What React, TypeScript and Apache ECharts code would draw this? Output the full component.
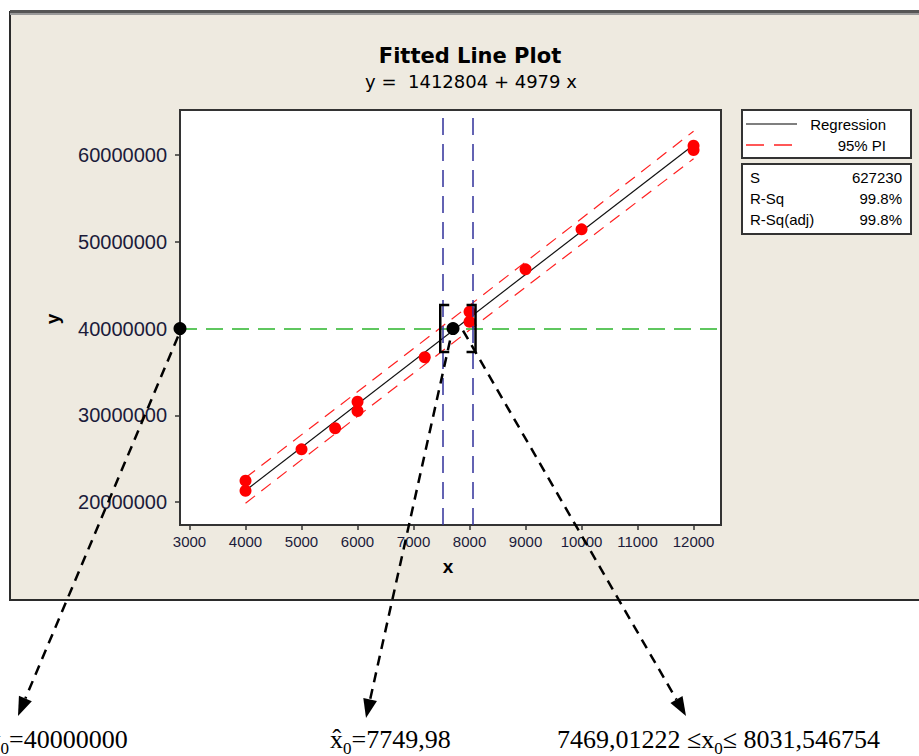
import React, { useEffect, useRef } from "react";
import * as echarts from "echarts";

// ---- data ----
const xObs = [4000, 4000, 5000, 5600, 6000, 6000, 7200, 8000, 8000, 9000, 10000, 12000, 12000];
const yObs = [22460000, 21300000, 26070000, 28500000, 31560000, 30490000, 36680000, 41940000, 40780000, 46820000, 51430000, 61070000, 60580000];

const regX = [4000, 12000];
const regY = [21328804, 61160804];

const piX = [4000, 6000, 8000, 10000, 12000];
const piUpper = [22800000, 32710000, 42670000, 52680000, 62750000];
const piLower = [19860000, 29870000, 39820000, 49720000, 59570000];

const xTicks = [3000, 4000, 5000, 6000, 7000, 8000, 9000, 10000, 11000, 12000];
const yTicks = [20000000, 30000000, 40000000, 50000000, 60000000];

const y0 = 40000000;
const xHat = 7705;
const intervalLines = [7515, 8050];
const bracketX = [7477, 8107];
const bracketTop = 42700000;
const bracketBottom = 37300000;

const xMin = 2830;
const xMax = 12490;
const yMin = 17350000;
const yMax = 65190000;

const statNames = ["S", "R-Sq", "R-Sq(adj)"];
const statValues = ["627230", "99.8%", "99.8%"];

const sansFont = '"Liberation Sans", Arial, sans-serif';
const serifFont = '"Liberation Serif", "Times New Roman", serif';

export default function App() {
  const ref = useRef<HTMLDivElement>(null);

  useEffect(() => {
    if (!ref.current) return;
    const chart = echarts.init(ref.current, undefined, { renderer: "svg" });

    const scatterData = xObs.map((x, i) => [x, yObs[i]]);
    const regData = regX.map((x, i) => [x, regY[i]]);
    const upData = piX.map((x, i) => [x, piUpper[i]]);
    const loData = piX.map((x, i) => [x, piLower[i]]);

    chart.setOption({
      animation: false,
      backgroundColor: "#ffffff",
      grid: {
        left: 180,
        top: 110,
        width: 541,
        height: 415,
        show: true,
        backgroundColor: "#ffffff",
        borderColor: "#333333",
        borderWidth: 2,
        z: 1,
      },
      xAxis: {
        type: "value",
        min: xMin,
        max: xMax,
        splitNumber: 10,
        splitLine: { show: false },
        axisLine: { show: false },
        axisTick: { show: true, length: 5, lineStyle: { color: "#333", width: 1.5 } },
        axisLabel: {
          showMinLabel: false,
          showMaxLabel: false,
          margin: 9,
          fontSize: 15,
          fontFamily: sansFont,
          color: "#1b1b3a",
          formatter: (v: number) => (xTicks.indexOf(v) >= 0 ? String(v) : ""),
        },
      },
      yAxis: {
        type: "value",
        min: yMin,
        max: yMax,
        splitNumber: 5,
        splitLine: { show: false },
        axisLine: { show: false },
        axisTick: { show: true, length: 5, lineStyle: { color: "#333", width: 1.5 } },
        axisLabel: {
          showMinLabel: false,
          showMaxLabel: false,
          margin: 13,
          fontSize: 20,
          fontFamily: sansFont,
          color: "#1b1b3a",
          formatter: (v: number) => (yTicks.indexOf(v) >= 0 ? String(v) : ""),
        },
      },
      series: [
        {
          name: "Regression",
          type: "line",
          data: regData,
          showSymbol: false,
          lineStyle: { color: "#111", width: 1.2 },
          z: 3,
          markLine: {
            silent: true,
            symbol: ["none", "none"],
            label: { show: false },
            data: [
              { yAxis: y0, lineStyle: { color: "#5fc75f", width: 2, type: [17, 9] } },
              ...intervalLines.map((v) => ({
                xAxis: v,
                lineStyle: { color: "#30309a", width: 1.5, type: [17, 9] },
              })),
            ],
          },
        },
        {
          name: "95% PI upper",
          type: "line",
          data: upData,
          showSymbol: false,
          lineStyle: { color: "#ff2020", width: 1.2, type: [12, 8] },
          z: 3,
        },
        {
          name: "95% PI lower",
          type: "line",
          data: loData,
          showSymbol: false,
          lineStyle: { color: "#ff2020", width: 1.2, type: [12, 8] },
          z: 3,
        },
        {
          name: "Observations",
          type: "scatter",
          data: scatterData,
          symbolSize: 12,
          itemStyle: { color: "#ff0000", opacity: 1 },
          z: 4,
        },
        {
          name: "Brackets",
          type: "custom",
          coordinateSystem: "cartesian2d",
          clip: false,
          encode: { x: 0, y: 1 },
          data: [
            [bracketX[0], bracketTop, bracketBottom, 1],
            [bracketX[1], bracketTop, bracketBottom, -1],
          ],
          renderItem: (params: any, api: any) => {
            const top = api.coord([api.value(0), api.value(1)]);
            const bot = api.coord([api.value(0), api.value(2)]);
            const d = api.value(3) * 9;
            return {
              type: "polyline",
              shape: {
                points: [
                  [top[0] + d, top[1]],
                  [top[0], top[1]],
                  [bot[0], bot[1]],
                  [bot[0] + d, bot[1]],
                ],
              },
              style: { stroke: "#000", lineWidth: 2.5, fill: "none" },
            };
          },
          z: 6,
        },
        {
          name: "Estimate",
          type: "scatter",
          data: [
            [xMin, y0],
            [xHat, y0],
          ],
          clip: false,
          symbolSize: 13,
          itemStyle: { color: "#000", opacity: 1 },
          z: 7,
        },
      ],
    });

    // ---- annotations that depend on the chart's scales ----
    const pL = chart.convertToPixel({ gridIndex: 0 }, [xMin, y0]) as number[];
    const pM = chart.convertToPixel({ gridIndex: 0 }, [xHat, y0]) as number[];

    const canvas = document.createElement("canvas");
    const ctx = canvas.getContext("2d")!;
    const tw = (t: string, font: string) => {
      ctx.font = font;
      return ctx.measureText(t).width;
    };

    const arrow = (x1: number, y1: number, x2: number, y2: number) => {
      const dx = x2 - x1;
      const dy = y2 - y1;
      const len = Math.hypot(dx, dy);
      const ux = dx / len;
      const uy = dy / len;
      const hl = 19;
      const hw = 7;
      const bx = x2 - ux * hl;
      const by = y2 - uy * hl;
      return [
        {
          type: "line",
          shape: { x1, y1, x2: bx, y2: by },
          style: { stroke: "#000", lineWidth: 2.5, lineDash: [10, 7] },
          z: 100,
        },
        {
          type: "polygon",
          shape: {
            points: [
              [x2, y2],
              [bx - uy * hw, by + ux * hw],
              [bx + uy * hw, by - ux * hw],
            ],
          },
          style: { fill: "#000" },
          z: 100,
        },
      ];
    };

    const mainF = `26px ${serifFont}`;
    const subF = `17px ${serifFont}`;
    const baseY = 739;
    const subY = 748;
    const formula = (startX: number, parts: { t: string; sub?: boolean }[]) => {
      const els: any[] = [];
      let x = startX;
      parts.forEach((p) => {
        const f = p.sub ? subF : mainF;
        els.push({
          type: "text",
          x,
          y: p.sub ? subY : baseY,
          style: { text: p.t, font: f, fill: "#000", textAlign: "left", textVerticalAlign: "middle" },
          z: 100,
        });
        x += tw(p.t, f);
      });
      return els;
    };

    const leftStart = 9 - tw("0", subF) - tw("y", mainF);

    const legendX = 742;
    const legendW = 169;

    const graphic: any[] = [
      // panel background
      { type: "rect", shape: { x: 10, y: 12, width: 930, height: 588 }, style: { fill: "#EEEAE0", stroke: "#2b2b2b", lineWidth: 2 }, z: -10 },
      { type: "rect", shape: { x: 10, y: 10, width: 930, height: 3 }, style: { fill: "#555555" }, z: -9 },
      { type: "rect", shape: { x: 10, y: 13, width: 930, height: 2 }, style: { fill: "#9a9a9a" }, z: -9 },
      // titles
      { type: "text", x: 470, y: 56, style: { text: "Fitted Line Plot", font: `bold 21px "DejaVu Sans", sans-serif`, fill: "#000", textAlign: "center", textVerticalAlign: "middle" }, z: 10 },
      { type: "text", x: 471, y: 81, style: { text: "y =  1412804 + 4979 x", font: `18px "DejaVu Sans", sans-serif`, fill: "#000", textAlign: "center", textVerticalAlign: "middle" }, z: 10 },
      // axis names
      { type: "text", x: 448, y: 566, style: { text: "x", font: `bold 19px ${sansFont}`, fill: "#000", textAlign: "center", textVerticalAlign: "middle" }, z: 10 },
      { type: "text", x: 52, y: 319, rotation: Math.PI / 2, style: { text: "y", font: `bold 19px ${sansFont}`, fill: "#000", textAlign: "center", textVerticalAlign: "middle" }, z: 10 },
      // legend box
      { type: "rect", shape: { x: legendX, y: 110, width: legendW, height: 48 }, style: { fill: "#fff", stroke: "#333", lineWidth: 2 }, z: 10 },
      { type: "line", shape: { x1: 746, y1: 124, x2: 797, y2: 124 }, style: { stroke: "#000", lineWidth: 1.2 }, z: 11 },
      { type: "text", x: 886, y: 124, style: { text: "Regression", font: `15px ${sansFont}`, fill: "#000", textAlign: "right", textVerticalAlign: "middle" }, z: 11 },
      { type: "line", shape: { x1: 746, y1: 145, x2: 792, y2: 145 }, style: { stroke: "#ff2020", lineWidth: 1.5, lineDash: [18, 10] }, z: 11 },
      { type: "text", x: 886, y: 145, style: { text: "95% PI", font: `15px ${sansFont}`, fill: "#000", textAlign: "right", textVerticalAlign: "middle" }, z: 11 },
      // stats box
      { type: "rect", shape: { x: legendX, y: 164, width: legendW, height: 70 }, style: { fill: "#fff", stroke: "#333", lineWidth: 2 }, z: 10 },
      ...statNames.map((n, i) => ({
        type: "text", x: 750, y: 177 + i * 21,
        style: { text: n, font: `15px ${sansFont}`, fill: "#000", textAlign: "left", textVerticalAlign: "middle" }, z: 11,
      })),
      ...statValues.map((v, i) => ({
        type: "text", x: 902, y: 177 + i * 21,
        style: { text: v, font: `15px ${sansFont}`, fill: "#000", textAlign: "right", textVerticalAlign: "middle" }, z: 11,
      })),
      // arrows
      ...arrow(pL[0] - 2, pL[1] + 8, 18, 716),
      ...arrow(pM[0] - 3, pM[1] + 12, 366, 718),
      ...arrow(pM[0] + 10, pM[1] + 2, 686, 716),
      // bottom formulas
      ...formula(leftStart, [{ t: "y" }, { t: "0", sub: true }, { t: "=40000000" }]),
      ...formula(330, [{ t: "x\u0302" }, { t: "0", sub: true }, { t: "=7749,98" }]),
      ...formula(557, [{ t: "7469,01222 ≤x" }, { t: "0", sub: true }, { t: "≤ 8031,546754" }]),
    ];

    chart.setOption({ graphic });

    return () => chart.dispose();
  }, []);

  return <div ref={ref} style={{ position: "absolute", left: 0, top: 0, width: 919, height: 756 }} />;
}
